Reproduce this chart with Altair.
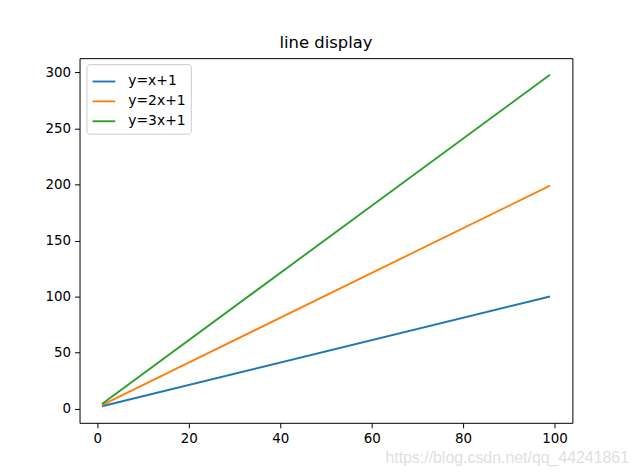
import altair as alt
import pandas as pd

series = ["y=x+1", "y=2x+1", "y=3x+1"]
colors = ["#1f77b4", "#ff7f0e", "#2ca02c"]
x_vals = [1, 99]
y_line1 = [2, 100]
y_line2 = [3, 199]
y_line3 = [4, 298]
x_ticks = [0, 20, 40, 60, 80, 100]
y_ticks = [0, 50, 100, 150, 200, 250, 300]

rows = []
for name, ys in zip(series, [y_line1, y_line2, y_line3]):
    for xv, yv in zip(x_vals, ys):
        rows.append({"x": xv, "y": yv, "series": name})
df = pd.DataFrame(rows)

font = "DejaVu Sans"

axis_common = dict(
    grid=False, domain=False, tickColor="black", tickSize=5, tickWidth=1,
    labelFont=font, labelFontSize=13.5, labelColor="black", labelPadding=4,
    title=None,
)

lines = alt.Chart(df).mark_line(strokeWidth=1.9).encode(
    x=alt.X("x:Q", scale=alt.Scale(domain=[-3.9, 103.9], nice=False, zero=False),
            axis=alt.Axis(values=x_ticks, **axis_common)),
    y=alt.Y("y:Q", scale=alt.Scale(domain=[-12.8, 312.8], nice=False, zero=False),
            axis=alt.Axis(values=y_ticks, **axis_common)),
    color=alt.Color("series:N", sort=series,
                    scale=alt.Scale(domain=series, range=colors),
                    legend=alt.Legend(
                        title=None, orient="none", legendX=7, legendY=6,
                        symbolType="stroke", symbolSize=520, symbolStrokeWidth=1.9,
                        labelFont=font, labelFontSize=14, labelColor="black",
                        strokeColor="#cccccc", fillColor="white", padding=5,
                        cornerRadius=3, rowPadding=0, labelOffset=12,
                    )),
    detail="series:N",
)

watermark = alt.Chart(pd.DataFrame({"t": ["https://blog.csdn.net/qq_44241861"]})).mark_text(
    align="right", baseline="middle", font="Liberation Sans", fontSize=16, color="#e0e0e0"
).encode(x=alt.value(553), y=alt.value(402), text="t:N")

chart = alt.layer(lines, watermark).properties(
    width=496, height=367,
    title=alt.TitleParams("line display", font=font, fontSize=16.5, fontWeight="normal",
                          color="black", offset=7),
    autosize=alt.AutoSizeParams(type="none"),
    padding={"left": 72, "top": 49, "right": 60, "bottom": 45},
    view=alt.ViewBackground(stroke="black", strokeWidth=1, fill="white"),
).configure(background="white")

chart.save("out.html", embed_options={"renderer": "svg", "actions": False})
